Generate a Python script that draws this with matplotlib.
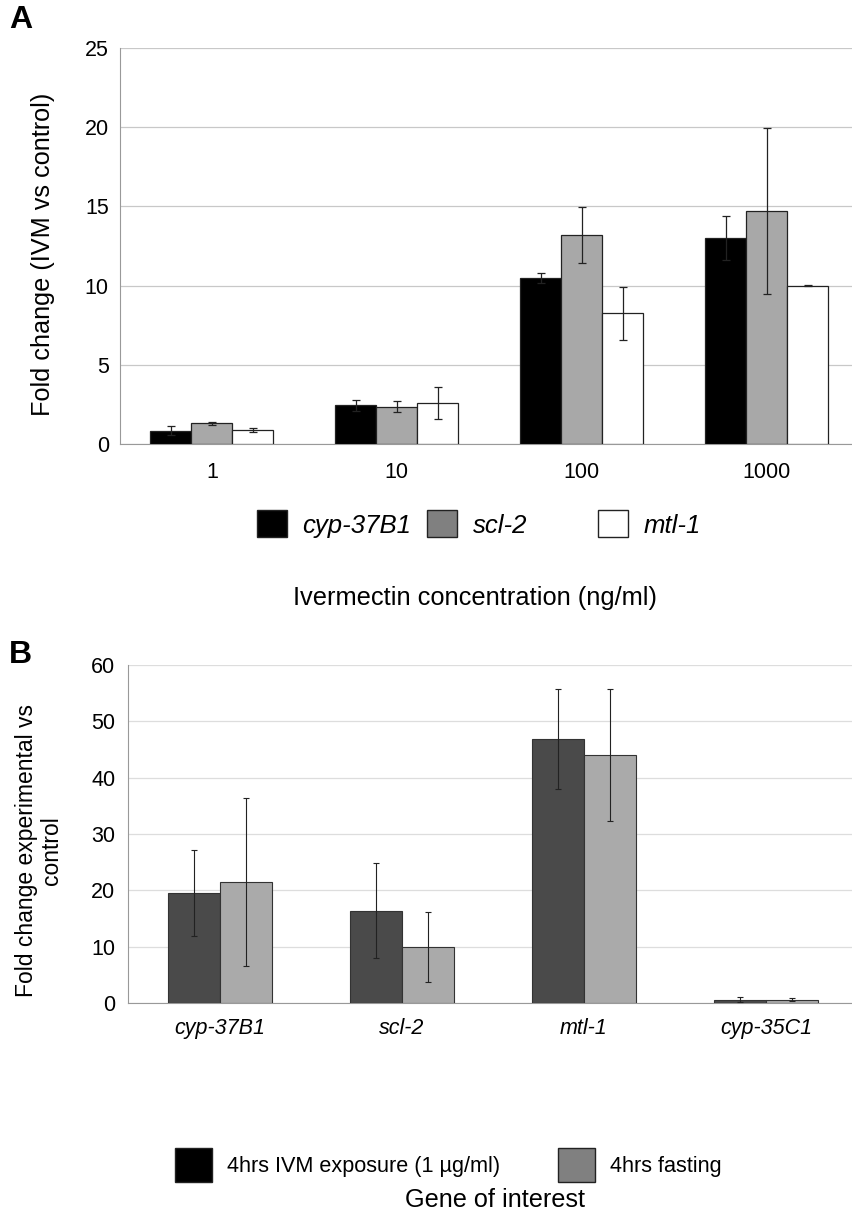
import matplotlib
matplotlib.use('Agg')
import matplotlib.pyplot as plt
from matplotlib.patches import Patch
import numpy as np

plt.rcParams['font.family'] = ['Liberation Sans', 'DejaVu Sans']

# Panel A data
conc_labels = ['1', '10', '100', '1000']
genes_a = ['cyp-37B1', 'scl-2', 'mtl-1']
cyp37_a = [0.85, 2.45, 10.5, 13.0]
cyp37_a_err = [0.3, 0.35, 0.3, 1.4]
scl2_a = [1.3, 2.35, 13.2, 14.7]
scl2_a_err = [0.08, 0.35, 1.75, 5.25]
mtl1_a = [0.9, 2.6, 8.25, 10.0]
mtl1_a_err = [0.13, 1.0, 1.65, 0.05]

# Panel B data
genes_b = ['cyp-37B1', 'scl-2', 'mtl-1', 'cyp-35C1']
treat_b = ['4hrs IVM exposure (1 \u00b5g/ml)', '4hrs fasting']
ivm_b = [19.5, 16.4, 46.9, 0.6]
ivm_b_err = [7.65, 8.4, 8.9, 0.4]
fast_b = [21.5, 10.0, 44.0, 0.6]
fast_b_err = [14.9, 6.2, 11.75, 0.3]

fig = plt.figure(figsize=(8.52, 12.2), dpi=100)


def legend_item(handle, label, xpix, ypix, size, style, hl, hh, pad):
    # one legend per entry so the uneven spacing of the original can be kept
    fig.legend([handle], [label], loc='center left',
               bbox_to_anchor=(xpix / 852, 1 - ypix / 1220),
               frameon=False, borderaxespad=0, borderpad=0,
               handlelength=hl, handleheight=hh, handletextpad=pad,
               prop={'size': size, 'style': style})


# ---------------- Panel A ----------------
axA = fig.add_axes([0.1408, 0.636, 0.859, 0.3246])
x = np.arange(len(conc_labels))
w = 0.222
series_a = [(cyp37_a, cyp37_a_err, 'black'),
            (scl2_a, scl2_a_err, '#a8a8a8'),
            (mtl1_a, mtl1_a_err, 'white')]
for i, (vals, errs, col) in enumerate(series_a):
    axA.bar(x + (i - 1) * w, vals, w, color=col, edgecolor='#222222', linewidth=0.9,
            yerr=errs, error_kw=dict(ecolor='#222222', elinewidth=0.9, capsize=3, capthick=0.9),
            zorder=3)
axA.set_xlim(-0.497, 3.46)
axA.set_ylim(0, 25)
axA.set_yticks(range(0, 26, 5))
axA.set_xticks(x)
axA.set_xticklabels(conc_labels)
axA.yaxis.grid(True, color='#c8c8c8', linewidth=0.9, zorder=0)
for s in ['top', 'right']:
    axA.spines[s].set_visible(False)
axA.spines['left'].set_color('#999999')
axA.spines['bottom'].set_color('#999999')
axA.tick_params(axis='y', length=0, labelsize=15.5, pad=8)
axA.tick_params(axis='x', length=0, labelsize=15.5, pad=13)
axA.set_ylabel('Fold change (IVM vs control)', fontsize=18.2)
axA.yaxis.set_label_coords(-0.089, 0.48)

colors_leg_a = ['black', '#808080', 'white']
xpos_leg_a = [257, 427, 598]
for lab, col, xp in zip(genes_a, colors_leg_a, xpos_leg_a):
    legend_item(Patch(facecolor=col, edgecolor='#222222'), lab, xp, 524,
                18.5, 'italic', 1.17, 1.24, 0.6)
fig.text(475 / 852, 1 - 598 / 1220, 'Ivermectin concentration (ng/ml)',
         ha='center', va='center', fontsize=18.3)
fig.text(0.011, 0.9836, 'A', fontsize=23, weight='bold', va='center')

# ---------------- Panel B ----------------
axB = fig.add_axes([0.150, 0.1779, 0.85, 0.277])
xb = np.arange(len(genes_b))
wb = 0.286
axB.bar(xb - wb / 2, ivm_b, wb, color='#4a4a4a', edgecolor='#333333', linewidth=0.8,
        yerr=ivm_b_err, error_kw=dict(ecolor='#222222', elinewidth=0.8, capsize=2.5, capthick=0.8),
        zorder=3)
axB.bar(xb + wb / 2, fast_b, wb, color='#aaaaaa', edgecolor='#333333', linewidth=0.8,
        yerr=fast_b_err, error_kw=dict(ecolor='#222222', elinewidth=0.8, capsize=2.5, capthick=0.8),
        zorder=3)
axB.set_xlim(-0.505, 3.473)
axB.set_ylim(0, 60)
axB.set_yticks(range(0, 61, 10))
axB.set_xticks(xb)
axB.set_xticklabels(genes_b, style='italic')
axB.yaxis.grid(True, color='#dddddd', linewidth=0.9, zorder=0)
for s in ['top', 'right']:
    axB.spines[s].set_visible(False)
axB.spines['left'].set_color('#999999')
axB.spines['bottom'].set_color('#999999')
axB.tick_params(axis='y', length=0, labelsize=15.5, pad=9)
axB.tick_params(axis='x', length=0, labelsize=15.5, pad=11)
axB.set_ylabel('Fold change experimental vs\ncontrol', fontsize=16.5, linespacing=1.15)
axB.yaxis.set_label_coords(-0.089, 0.45)

colors_leg_b = ['black', '#808080']
xpos_leg_b = [175, 558]
for lab, col, xp in zip(treat_b, colors_leg_b, xpos_leg_b):
    legend_item(Patch(facecolor=col, edgecolor='#222222'), lab, xp, 1165,
                15.6, 'normal', 1.7, 2.03, 0.72)
fig.text(495 / 852, 1 - 1200 / 1220, 'Gene of interest', ha='center', va='center', fontsize=18.2)
fig.text(0.011, 0.463, 'B', fontsize=23, weight='bold', va='center')

fig.savefig('out.png', dpi=100)
